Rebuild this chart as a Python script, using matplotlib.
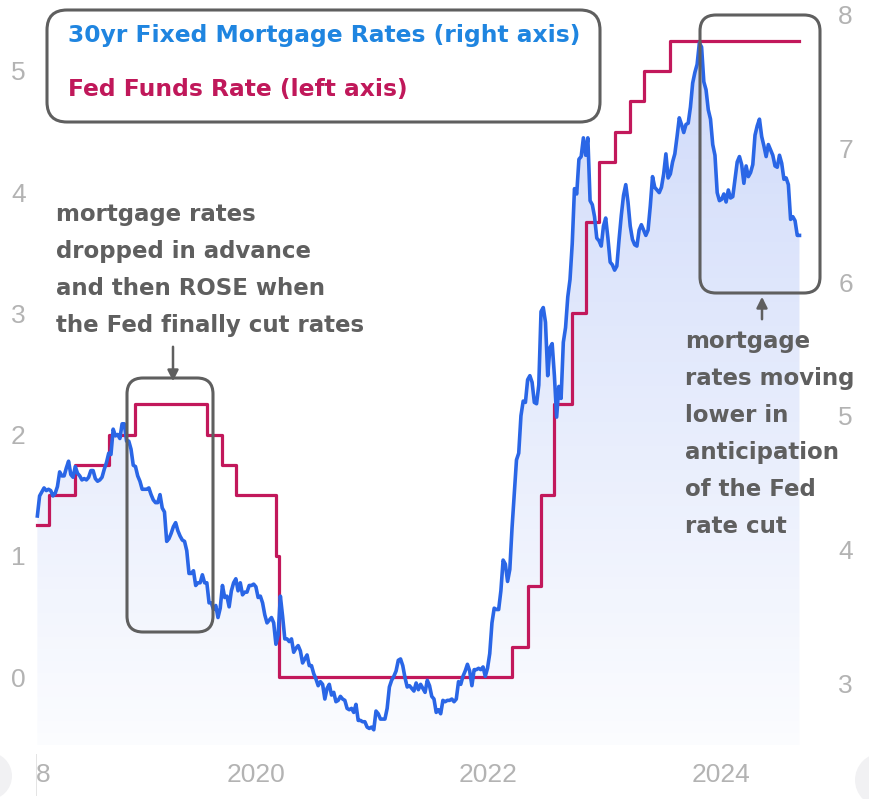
import numpy as np
import pandas as pd
import matplotlib
matplotlib.use("Agg")
import matplotlib.pyplot as plt
from matplotlib.patches import FancyBboxPatch, FancyArrowPatch, Polygon, Circle, Rectangle
from matplotlib.transforms import IdentityTransform

W, H = 869, 799

# 30yr fixed mortgage rate, weekly (Thursdays) from 2018-02-15 -- right axis
mort_2018 = [4.25, 4.40,
             4.43, 4.46, 4.44, 4.45, 4.44,
             4.40, 4.42, 4.47, 4.58,
             4.55, 4.55, 4.61, 4.66, 4.56,
             4.54, 4.62, 4.57, 4.55,
             4.52, 4.53, 4.52, 4.54,
             4.59, 4.59, 4.53, 4.51, 4.52,
             4.54, 4.60, 4.65, 4.72,
             4.71, 4.90, 4.85, 4.86,
             4.83, 4.94, 4.94, 4.81, 4.81,
             4.75, 4.63, 4.62, 4.55]
mort_2019 = [4.51, 4.45, 4.45, 4.45, 4.46,
             4.41, 4.37, 4.35, 4.35,
             4.41, 4.31, 4.28, 4.06,
             4.08, 4.12, 4.17, 4.20,
             4.14, 4.10, 4.07, 4.06, 3.99,
             3.82, 3.82, 3.84, 3.73,
             3.75, 3.75, 3.81, 3.75,
             3.75, 3.60, 3.60, 3.55, 3.58,
             3.49, 3.56, 3.73, 3.64,
             3.65, 3.57, 3.69, 3.75, 3.78,
             3.69, 3.75, 3.66, 3.68,
             3.68, 3.73, 3.73, 3.74]
mort_2020 = [3.72, 3.64, 3.65, 3.60, 3.51,
             3.45, 3.47, 3.49, 3.45,
             3.29, 3.36, 3.65, 3.50,
             3.33, 3.33, 3.31, 3.33, 3.23,
             3.26, 3.28, 3.24, 3.15,
             3.18, 3.21, 3.13, 3.13,
             3.07, 3.03, 2.98, 3.01, 2.99,
             2.88, 2.96, 2.99, 2.91,
             2.93, 2.86, 2.87, 2.90,
             2.88, 2.87, 2.81, 2.80, 2.81,
             2.78, 2.84, 2.72, 2.72,
             2.71, 2.71, 2.67, 2.66, 2.67]
mort_2021 = [2.65, 2.79, 2.77, 2.73,
             2.73, 2.73, 2.81, 2.97,
             3.02, 3.05, 3.09, 3.17,
             3.18, 3.13, 3.04, 2.97, 2.98,
             2.96, 2.94, 3.00, 2.95,
             2.99, 2.96, 2.93, 3.02,
             2.98, 2.90, 2.88, 2.78, 2.80,
             2.77, 2.87, 2.86, 2.87,
             2.87, 2.88, 2.86, 2.88, 3.01,
             2.99, 3.05, 3.09, 3.14,
             3.09, 2.98, 3.10, 3.10,
             3.11, 3.10, 3.12, 3.05, 3.11]
mort_2022 = [3.22, 3.45, 3.56, 3.55,
             3.55, 3.69, 3.92, 3.89,
             3.76, 3.85, 4.16, 4.42, 4.67,
             4.72, 5.00, 5.11, 5.10,
             5.27, 5.30, 5.25, 5.10,
             5.09, 5.23, 5.78, 5.81, 5.70,
             5.30, 5.51, 5.54, 5.30,
             4.99, 5.22, 5.13, 5.55,
             5.66, 5.89, 6.02, 6.29, 6.70,
             6.66, 6.92, 6.94, 7.08,
             6.95, 7.08, 6.61, 6.58,
             6.49, 6.33, 6.31, 6.27, 6.42]
mort_2023 = [6.48, 6.33, 6.15, 6.13,
             6.09, 6.12, 6.32, 6.50,
             6.65, 6.73, 6.60, 6.42, 6.32,
             6.28, 6.27, 6.39, 6.43,
             6.39, 6.35, 6.39, 6.57,
             6.79, 6.71, 6.69, 6.67, 6.71,
             6.81, 6.96, 6.78, 6.81,
             6.90, 6.96, 7.09, 7.23, 7.18,
             7.12, 7.18, 7.19, 7.31,
             7.49, 7.57, 7.63, 7.79,
             7.76, 7.50, 7.44, 7.29, 7.22,
             7.03, 6.95, 6.67, 6.61]
mort_2024 = [6.62, 6.66, 6.60, 6.69,
             6.63, 6.64, 6.77, 6.90, 6.94,
             6.88, 6.74, 6.87, 6.79,
             6.82, 6.88, 7.10, 7.17,
             7.22, 7.09, 7.02, 6.94, 7.03,
             6.99, 6.95, 6.87, 6.86,
             6.95, 6.89, 6.77, 6.78,
             6.73, 6.47, 6.49, 6.46, 6.35,
             6.35]
mortgage = mort_2018 + mort_2019 + mort_2020 + mort_2021 + mort_2022 + mort_2023 + mort_2024
mort_dates = pd.date_range("2018-02-15", periods=len(mortgage), freq="7D")

# fed funds target (lower bound) -- left axis, value holds from each date on
fed_dates = ["2018-02-15", "2018-03-22", "2018-06-14", "2018-09-27", "2018-12-20",
             "2019-08-01", "2019-09-19", "2019-10-31", "2020-03-04", "2020-03-16",
             "2022-03-17", "2022-05-05", "2022-06-16", "2022-07-28", "2022-09-22",
             "2022-11-03", "2022-12-15", "2023-02-02", "2023-03-23", "2023-05-04",
             "2023-07-27", "2024-09-05"]
fed_levels = [1.25, 1.5, 1.75, 2.0, 2.25,
              2.0, 1.75, 1.5, 1.0, 0.0,
              0.25, 0.75, 1.5, 2.25, 3.0,
              3.75, 4.25, 4.5, 4.75, 5.0,
              5.25, 5.25]

year_ticks = [2020, 2022, 2024]
left_ticks = [0, 1, 2, 3, 4, 5]
right_ticks = [3, 4, 5, 6, 7, 8]


def to_year(dates):
    d = pd.DatetimeIndex(pd.to_datetime(dates))
    return np.asarray(d.year + (d.dayofyear - 1) / np.where(d.is_leap_year, 366, 365))


mort_t = to_year(mort_dates)
fed_t = to_year(fed_dates)

BLUE = "#2a66e6"
RED = "#c2185b"
GRAY = "#5f5f5f"
TICK = "#b3b3b3"
TICK_FONT = ["Liberation Sans", "DejaVu Sans"]
TICK_SIZE = 19

fig = plt.figure(figsize=(W / 100, H / 100), dpi=100)
fig.patch.set_facecolor("white")

L, R, T, B = 30, 830, 10, 745
rect = [L / W, 1 - B / H, (R - L) / W, (B - T) / H]
ax_m = fig.add_axes(rect)                              # right scale + fill
ax_f = fig.add_axes(rect, sharex=ax_m)                 # left scale, fed
ax_l = fig.add_axes(rect, sharex=ax_m, sharey=ax_m)    # mortgage line on top
for a in (ax_f, ax_l):
    a.patch.set_visible(False)

xlim = (2018.06, 2024.94)
ylim_r = (2.536, 8.037)
ylim_l = (-0.561, 5.503)

# gradient fill under mortgage line
alpha = np.linspace(0.02, 0.26, 256)
rgba = np.zeros((256, 1, 4))
rgba[..., 0] = 0.25
rgba[..., 1] = 0.42
rgba[..., 2] = 0.92
rgba[..., 3] = alpha[:, None]
im = ax_m.imshow(rgba, extent=[xlim[0], xlim[1], ylim_r[0], ylim_r[1]],
                 origin="lower", aspect="auto", interpolation="bilinear", zorder=1)
verts = np.column_stack([np.r_[mort_t[0], mort_t, mort_t[-1]],
                         np.r_[ylim_r[0], mortgage, ylim_r[0]]])
clip = Polygon(verts, closed=True, transform=ax_m.transData,
               facecolor="none", edgecolor="none")
ax_m.add_patch(clip)
im.set_clip_path(clip)

ax_f.step(fed_t, fed_levels, where="post", color=RED, lw=2.3)
ax_l.plot(mort_t, mortgage, color=BLUE, lw=2.6, solid_joinstyle="round")

ax_m.set_xlim(*xlim)
ax_m.set_ylim(*ylim_r)
ax_f.set_ylim(*ylim_l)

ax_m.yaxis.tick_right()
ax_m.set_yticks(right_ticks)
ax_m.set_yticklabels([str(v) for v in right_ticks], family=TICK_FONT)
ax_m.set_xticks(year_ticks)
ax_m.set_xticklabels([str(v) for v in year_ticks], family=TICK_FONT)
ax_m.tick_params(axis="y", length=0, pad=6, labelsize=TICK_SIZE, labelcolor=TICK)
ax_m.tick_params(axis="x", length=0, pad=13, labelsize=TICK_SIZE, labelcolor=TICK)

ax_f.set_yticks(left_ticks)
ax_f.set_yticklabels([str(v) for v in left_ticks], family=TICK_FONT)
ax_f.tick_params(axis="y", length=0, pad=3, labelsize=TICK_SIZE, labelcolor=TICK,
                 left=False, labelleft=True, right=False, labelright=False)
ax_f.tick_params(axis="x", bottom=False, labelbottom=False)
ax_l.tick_params(left=False, labelleft=False, bottom=False, labelbottom=False)

for a in (ax_m, ax_f, ax_l):
    for s in a.spines.values():
        s.set_visible(False)

# ---- annotations, placed in pixels of the output image ----
px = IdentityTransform()


def box(x0, y0, x1, y1, r):
    p = FancyBboxPatch((x0, H - y1), x1 - x0, y1 - y0,
                       boxstyle="round,pad=0,rounding_size=%d" % r,
                       transform=px, facecolor="none", edgecolor=GRAY, lw=2.2)
    fig.add_artist(p)


def arrow(x, y_from, y_to):
    a = FancyArrowPatch((x, H - y_from), (x, H - y_to), arrowstyle="-|>",
                        mutation_scale=16, color=GRAY, lw=1.8, transform=px)
    fig.add_artist(a)


def text(x, y, s, color, size):
    fig.text(x / W, 1 - y / H, s, color=color, fontsize=size, fontweight="bold",
             family="DejaVu Sans", va="baseline", ha="left")


box(47, 10, 600, 122, 20)
text(68, 42, "30yr Fixed Mortgage Rates (right axis)", "#1f85e0", 16.8)
text(68, 96, "Fed Funds Rate (left axis)", "#c0185a", 16.8)

box(127, 378, 213, 632, 16)
box(700, 15, 820, 293, 16)

lines1 = ["mortgage rates", "dropped in advance", "and then ROSE when",
          "the Fed finally cut rates"]
for i, s in enumerate(lines1):
    text(56, 221 + 37 * i, s, GRAY, 16.5)
arrow(173, 344, 384)

lines2 = ["mortgage", "rates moving", "lower in", "anticipation", "of the Fed",
          "rate cut"]
for i, s in enumerate(lines2):
    text(685, 348 + 37 * i, s, GRAY, 16.5)
arrow(762, 322, 294)

# the 2018 label is hidden behind the slider control, only its last digit shows
fig.text(43 / W, 1 - (B + 13 * 100 / 72) / H, "8", color=TICK, fontsize=TICK_SIZE,
         family=TICK_FONT, ha="center", va="top")

# slider edge controls at the bottom corners
fig.add_artist(Circle((-12, H - 776), 24, transform=px, facecolor="#f1f1f3",
                      edgecolor="none"))
fig.add_artist(Circle((882, H - 780), 27, transform=px, facecolor="#f1f1f3",
                      edgecolor="none"))
fig.add_artist(Rectangle((35.5, H - 796), 1, 42, transform=px, facecolor="#e4e4e4",
                         edgecolor="none"))

fig.savefig("out.png", dpi=100)
